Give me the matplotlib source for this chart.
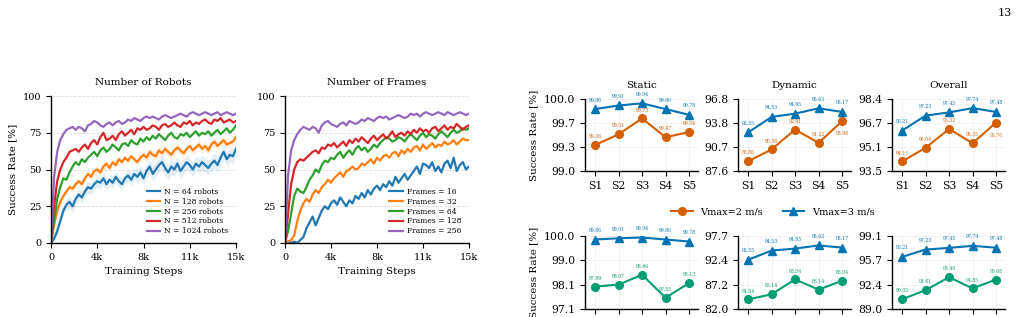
import numpy as np
import matplotlib
matplotlib.use("Agg")
import matplotlib.pyplot as plt

plt.rcParams['font.family'] = ['DejaVu Serif']
plt.rcParams['axes.linewidth'] = 1.0

# ---- training curves (success rate %, one value every 250 steps) ----
robots_labels = ["N = 64 robots", "N = 128 robots", "N = 256 robots", "N = 512 robots", "N = 1024 robots"]
robots_64 = [0, 3, 8, 15, 22, 26, 28, 25, 30, 33, 31, 35, 38, 37, 40, 42, 41, 44, 40, 43, 41, 45, 42, 40, 44, 46, 43, 47, 45, 48, 44,
             49, 52, 47, 50, 53, 55, 51, 48, 52, 50, 54, 49, 52, 55, 53, 50, 54, 52, 55, 53, 51, 54, 56, 53, 58, 62, 57, 60, 59, 64]
robots_128 = [0, 12, 22, 28, 32, 35, 38, 37, 40, 42, 40, 44, 47, 45, 49, 50, 48, 52, 54, 51, 55, 53, 57, 55, 58, 56, 59, 57, 55, 58, 60,
              58, 62, 60, 59, 63, 61, 64, 62, 60, 63, 65, 63, 61, 64, 66, 63, 65, 67, 64, 66, 63, 67, 69, 66, 68, 70, 67, 68, 69, 72]
robots_256 = [0, 15, 30, 38, 44, 43, 48, 52, 55, 53, 57, 55, 58, 60, 62, 59, 63, 65, 62, 64, 67, 65, 63, 67, 68, 66, 70, 68, 67, 71, 69,
              72, 70, 73, 71, 74, 72, 70, 73, 75, 72, 71, 74, 73, 75, 72, 74, 76, 73, 75, 74, 76, 73, 75, 77, 74, 76, 78, 75, 77, 80]
robots_512 = [0, 25, 42, 50, 55, 58, 62, 63, 64, 62, 65, 67, 64, 68, 70, 67, 72, 75, 70, 71, 73, 70, 74, 76, 73, 75, 77, 74, 78, 77, 79,
              77, 78, 80, 79, 77, 80, 81, 79, 80, 82, 80, 79, 82, 81, 83, 80, 82, 81, 83, 84, 82, 81, 84, 83, 85, 82, 83, 84, 82, 83]
robots_1024 = [0, 45, 62, 70, 74, 77, 78, 79, 77, 79, 78, 76, 80, 81, 83, 82, 80, 79, 81, 82, 80, 82, 83, 81, 82, 84, 83, 85, 84, 83, 85,
               86, 85, 86, 85, 84, 86, 87, 86, 85, 86, 87, 88, 87, 86, 88, 89, 88, 87, 88, 89, 88, 87, 88, 89, 87, 88, 89, 88, 87, 88]
robots_64_std = [0, 1, 2, 3, 3, 4, 4, 4, 4, 4, 4, 4, 4, 4, 4, 4, 4, 4, 4, 4, 4, 4, 4, 4, 4, 4, 4, 4, 5, 5, 5,
                 5, 5, 5, 5, 5, 5, 5, 5, 5, 5, 5, 5, 5, 5, 5, 5, 5, 5, 5, 5, 5, 5, 5, 5, 5, 5, 5, 5, 5, 5]

frames_labels = ["Frames = 16", "Frames = 32", "Frames = 64", "Frames = 128", "Frames = 256"]
frames_16 = [0, 1, 0, 1, 0, 2, 4, 10, 14, 18, 12, 17, 22, 25, 23, 27, 29, 26, 31, 28, 25, 29, 27, 32, 30, 34, 31, 36, 33, 37, 39,
             36, 40, 38, 42, 39, 45, 41, 44, 47, 43, 46, 49, 52, 47, 54, 53, 51, 55, 49, 52, 48, 54, 56, 51, 58, 49, 53, 55, 50, 52]
frames_32 = [0, 1, 2, 5, 15, 22, 27, 30, 28, 33, 36, 34, 38, 40, 43, 41, 44, 46, 48, 45, 49, 50, 52, 50, 51, 54, 53, 55, 57, 54, 58,
             56, 59, 60, 58, 61, 62, 59, 63, 61, 64, 62, 65, 66, 63, 67, 64, 66, 68, 65, 67, 66, 69, 67, 68, 70, 67, 69, 71, 70, 70]
frames_64 = [0, 8, 20, 32, 37, 35, 34, 38, 43, 46, 50, 48, 53, 56, 55, 58, 57, 60, 62, 58, 61, 63, 60, 64, 66, 63, 65, 62, 64, 67, 65,
             68, 70, 72, 71, 69, 70, 72, 71, 69, 72, 74, 72, 70, 73, 75, 72, 74, 73, 71, 74, 76, 74, 72, 75, 77, 75, 76, 78, 77, 78]
frames_128 = [0, 20, 40, 50, 55, 57, 56, 58, 60, 62, 63, 61, 65, 64, 67, 66, 68, 65, 67, 69, 66, 70, 68, 71, 69, 72, 70, 68, 71, 73, 70,
              72, 74, 71, 73, 76, 72, 74, 75, 73, 76, 74, 77, 75, 78, 76, 77, 75, 78, 79, 76, 78, 80, 77, 79, 78, 81, 79, 77, 79, 80]
frames_256 = [0, 46, 63, 70, 74, 77, 79, 78, 77, 79, 78, 75, 80, 82, 83, 81, 80, 79, 81, 82, 80, 83, 82, 81, 82, 84, 83, 85, 84, 83, 85,
              86, 85, 86, 84, 85, 86, 87, 86, 85, 86, 88, 87, 88, 86, 88, 89, 88, 87, 88, 89, 88, 87, 89, 88, 87, 88, 89, 88, 87, 88]

curve_colors = ["#1f77b4", "#ff7f0e", "#2ca02c", "#d62728", "#9467bd"]

# ---- scenario results ----
scenarios = ["S1", "S2", "S3", "S4", "S5"]
panel_titles = ["Static", "Dynamic", "Overall"]
top_v2 = [[99.36, 99.51, 99.73, 99.47, 99.54],
          [88.86, 90.38, 92.91, 91.22, 93.98],
          [94.11, 95.04, 96.32, 95.35, 96.76]]
v3 = [[99.86, 99.91, 99.94, 99.86, 99.78],
      [92.55, 94.53, 94.95, 95.63, 95.17],
      [96.21, 97.23, 97.45, 97.74, 97.48]]
bottom_green = [[97.99, 98.07, 98.46, 97.55, 98.13],
                [84.04, 85.14, 88.34, 86.14, 88.04],
                [90.35, 91.61, 93.40, 91.85, 93.08]]
top_ylims = [(99.0, 100.0), (87.62, 96.82), (93.46, 98.36)]
bottom_ylims = [(97.1, 100.0), (81.98, 97.66), (89.0, 99.1)]

c_orange = "#d55e00"
c_blue = "#0173b2"
c_green = "#029e73"

fig = plt.figure(figsize=(10.25, 3.17), dpi=100)
W, H = 1025.0, 317.0

def px_axes(left, top, right, bottom):
    return fig.add_axes([left / W, 1 - bottom / H, (right - left) / W, (bottom - top) / H])

def curve_panel(ax, series, labels, title, band=None):
    for i, (y, lab) in enumerate(zip(series, labels)):
        y = np.array(y, dtype=float)
        x = np.linspace(0, 15000, len(y))
        if band is not None and i in band:
            s = np.array(band[i], dtype=float)
            ax.fill_between(x, y - s, y + s, color=curve_colors[i], alpha=0.12, lw=0)
        ax.plot(x, y, color=curve_colors[i], lw=1.6, label=lab)
    ax.set_xlim(0, 15000)
    ax.set_ylim(0, 100)
    xt = np.linspace(0, 15000, 5)
    ax.set_xticks(xt)
    ax.set_xticklabels(["0" if v == 0 else "{:.0f}k".format(v / 1000) for v in xt])
    ax.set_yticks([0, 25, 50, 75, 100])
    ax.grid(axis='y', ls='--', lw=0.6, color='#dddddd')
    ax.set_axisbelow(True)
    for s in ['top', 'right']:
        ax.spines[s].set_visible(False)
    ax.tick_params(labelsize=7, length=3.5, width=0.8)
    ax.set_title(title, fontsize=7.5, pad=8)
    ax.set_xlabel("Training Steps", fontsize=7.5)
    ax.legend(loc='lower right', fontsize=5.5, frameon=False, handlelength=1.8, labelspacing=0.25,
              borderaxespad=0.6, handletextpad=0.5)

ax1 = px_axes(51, 96, 236, 243)
curve_panel(ax1, [robots_64, robots_128, robots_256, robots_512, robots_1024], robots_labels,
            "Number of Robots", band={0: robots_64_std, 1: [v * 0.6 for v in robots_64_std]})
ax1.set_ylabel("Success Rate [%]", fontsize=7.5)

ax2 = px_axes(285, 96, 469, 243)
curve_panel(ax2, [frames_16, frames_32, frames_64, frames_128, frames_256], frames_labels, "Number of Frames")

def small_panel(ax, lower, upper, ylim, low_color, title=None, below_last=False, show_xlabels=True):
    xs = np.arange(len(scenarios))
    ax.plot(xs, lower, color=low_color, marker='o', ms=5.5, lw=1.5, label="Vmax=2 m/s")
    ax.plot(xs, upper, color=c_blue, marker='^', ms=5.5, lw=1.5, label="Vmax=3 m/s")
    for xv, yv in zip(xs, lower):
        off = -9 if (below_last and xv == xs[-1]) else 6
        ax.annotate("{:.2f}".format(yv), (xv, yv), xytext=(0, off), textcoords='offset points',
                    ha='center', va='center', fontsize=3.3, color=low_color)
    for xv, yv in zip(xs, upper):
        ax.annotate("{:.2f}".format(yv), (xv, yv), xytext=(0, 6.5), textcoords='offset points',
                    ha='center', va='center', fontsize=3.3, color=c_blue)
    ax.set_xlim(-0.43, 4.38)
    ax.set_ylim(*ylim)
    yt = np.linspace(ylim[0], ylim[1], 4)
    ax.set_yticks(yt)
    ax.set_yticklabels(["{:.1f}".format(v) for v in yt])
    ax.set_xticks(xs)
    ax.set_xticklabels(scenarios)
    ax.grid(ls='--', lw=0.5, color='#e6e6e6')
    ax.set_axisbelow(True)
    for s in ['top', 'right']:
        ax.spines[s].set_visible(False)
    ax.tick_params(labelsize=7.8, length=3.5, width=0.8)
    ax.tick_params(axis='x', labelbottom=show_xlabels)
    if title:
        ax.set_title(title, fontsize=7.5, pad=8)

lefts = [585, 738, 892]
handles = None
for k in range(3):
    ax = px_axes(lefts[k], 99, lefts[k] + 113, 171)
    small_panel(ax, top_v2[k], v3[k], top_ylims[k], c_orange, panel_titles[k], below_last=(k > 0))
    if k == 0:
        ax.set_ylabel("Success Rate [%]", fontsize=7.5)
        handles, labs = ax.get_legend_handles_labels()
    # bottom row is cut by the page edge, so its tick labels are not shown
    axb = px_axes(lefts[k], 236, lefts[k] + 113, 309)
    small_panel(axb, bottom_green[k], v3[k], bottom_ylims[k], c_green, show_xlabels=False)
    if k == 0:
        axb.set_ylabel("Success Rate [%]", fontsize=7.5)

fig.legend(handles, labs, loc='center', bbox_to_anchor=(773 / W, 1 - 212 / H), ncol=2, frameon=False,
           fontsize=7, handlelength=2.2, columnspacing=2.0)

fig.text(1005 / W, 1 - 13 / H, "13", ha='center', va='center', fontsize=8)

fig.savefig("out.png", dpi=100)
